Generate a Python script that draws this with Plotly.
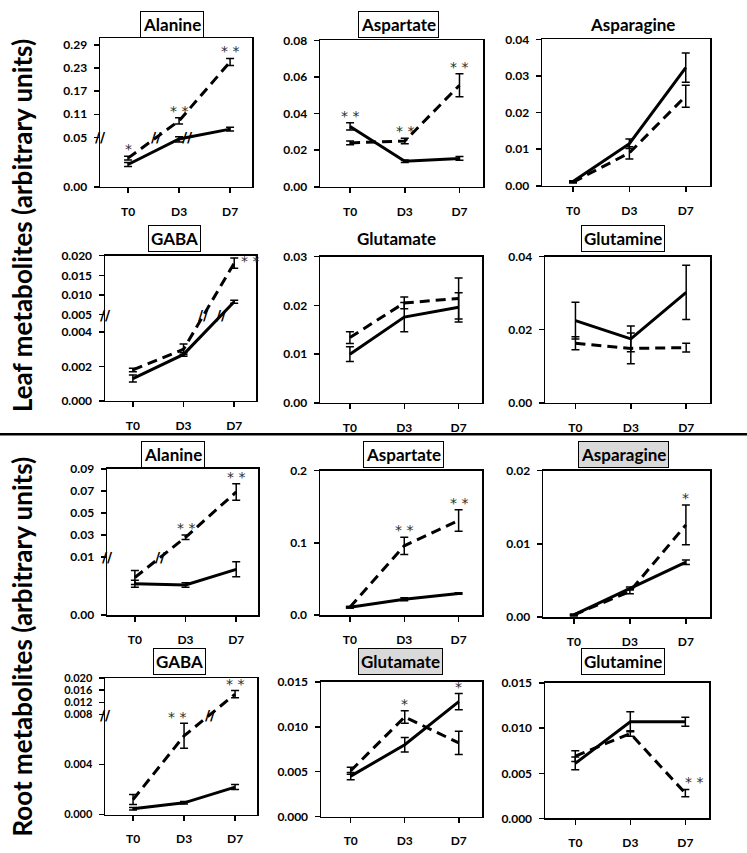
import plotly.graph_objects as go

W, H = 747, 853
times = ["T0", "D3", "D7"]
time_pos = [0, 1, 2]

# ---------------- Leaf metabolites ----------------
leaf_ala_solid = [0.0226, 0.0484, 0.0715]
leaf_ala_solid_err = [0.002, 0.003, 0.005]
leaf_ala_dash = [0.029, 0.093, 0.246]
leaf_ala_dash_err = [0.002, 0.008, 0.009]
leaf_ala_sig = ["*", "**", "**"]
leaf_ala_ticks = [0.00, 0.05, 0.11, 0.17, 0.23, 0.29]
leaf_ala_ticktext = ["0.00", "0.05", "0.11", "0.17", "0.23", "0.29"]

leaf_asp_solid = [0.033, 0.014, 0.0155]
leaf_asp_solid_err = [0.002, 0.0007, 0.001]
leaf_asp_dash = [0.024, 0.025, 0.0555]
leaf_asp_dash_err = [0.001, 0.0015, 0.0063]
leaf_asp_sig = ["**", "**", "**"]
leaf_asp_ticks = [0.00, 0.02, 0.04, 0.06, 0.08]
leaf_asp_ticktext = ["0.00", "0.02", "0.04", "0.06", "0.08"]

leaf_asn_solid = [0.0012, 0.0115, 0.0323]
leaf_asn_solid_err = [0.0002, 0.0013, 0.004]
leaf_asn_dash = [0.001, 0.009, 0.0245]
leaf_asn_dash_err = [0.0002, 0.0017, 0.003]
leaf_asn_sig = ["", "", ""]
leaf_asn_ticks = [0.00, 0.01, 0.02, 0.03, 0.04]
leaf_asn_ticktext = ["0.00", "0.01", "0.02", "0.03", "0.04"]

leaf_gaba_solid = [0.0013, 0.0027, 0.0083]
leaf_gaba_solid_err = [0.0002, 0.0001, 0.0004]
leaf_gaba_dash = [0.0018, 0.0030, 0.0181]
leaf_gaba_dash_err = [0.0001, 0.0003, 0.0013]
leaf_gaba_sig = ["", "", "**"]
leaf_gaba_ticks = [0.000, 0.002, 0.004, 0.005, 0.010, 0.015, 0.020]
leaf_gaba_ticktext = ["0.000", "0.002", "0.004", "0.005", "0.010", "0.015", "0.020"]

leaf_glu_solid = [0.0100, 0.0176, 0.0196]
leaf_glu_solid_err = [0.0015, 0.003, 0.003]
leaf_glu_dash = [0.0134, 0.0205, 0.0214]
leaf_glu_dash_err = [0.0012, 0.0012, 0.0042]
leaf_glu_sig = ["", "", ""]
leaf_glu_ticks = [0.00, 0.01, 0.02, 0.03]
leaf_glu_ticktext = ["0.00", "0.01", "0.02", "0.03"]

leaf_gln_solid = [0.0225, 0.0175, 0.0302]
leaf_gln_solid_err = [0.005, 0.0035, 0.0074]
leaf_gln_dash = [0.0163, 0.0149, 0.0151]
leaf_gln_dash_err = [0.0018, 0.0042, 0.0012]
leaf_gln_sig = ["", "", ""]
leaf_gln_ticks = [0.00, 0.02, 0.04]
leaf_gln_ticktext = ["0.00", "0.02", "0.04"]

# ---------------- Root metabolites ----------------
root_ala_solid = [0.0054, 0.0052, 0.0079]
root_ala_solid_err = [0.0006, 0.0004, 0.0013]
root_ala_dash = [0.0065, 0.028, 0.069]
root_ala_dash_err = [0.0012, 0.002, 0.0075]
root_ala_sig = ["", "**", "**"]
root_ala_ticks = [0.00, 0.01, 0.03, 0.05, 0.07, 0.09]
root_ala_ticktext = ["0.00", "0.01", "0.03", "0.05", "0.07", "0.09"]

root_asp_solid = [0.011, 0.022, 0.030]
root_asp_solid_err = [0.001, 0.002, 0.001]
root_asp_dash = [0.011, 0.096, 0.131]
root_asp_dash_err = [0.001, 0.012, 0.015]
root_asp_sig = ["", "**", "**"]
root_asp_ticks = [0.0, 0.1, 0.2]
root_asp_ticktext = ["0.0", "0.1", "0.2"]

root_asn_solid = [0.0003, 0.0039, 0.0075]
root_asn_solid_err = [0.0001, 0.0002, 0.0003]
root_asn_dash = [0.0003, 0.0035, 0.0126]
root_asn_dash_err = [0.0001, 0.0003, 0.0027]
root_asn_sig = ["", "", "*"]
root_asn_ticks = [0.00, 0.01, 0.02]
root_asn_ticktext = ["0.00", "0.01", "0.02"]

root_gaba_solid = [0.00047, 0.00094, 0.0022]
root_gaba_solid_err = [0.0001, 0.0001, 0.0002]
root_gaba_dash = [0.0012, 0.0063, 0.0147]
root_gaba_dash_err = [0.0004, 0.001, 0.0012]
root_gaba_sig = ["", "**", "**"]
root_gaba_ticks = [0.000, 0.004, 0.008, 0.012, 0.016, 0.020]
root_gaba_ticktext = ["0.000", "0.004", "0.008", "0.012", "0.016", "0.020"]

root_glu_solid = [0.0045, 0.0080, 0.0128]
root_glu_solid_err = [0.0004, 0.0008, 0.0009]
root_glu_dash = [0.0051, 0.0111, 0.0082]
root_glu_dash_err = [0.0004, 0.0007, 0.0013]
root_glu_sig = ["", "*", "*"]
root_glu_ticks = [0.000, 0.005, 0.010, 0.015]
root_glu_ticktext = ["0.000", "0.005", "0.010", "0.015"]

root_gln_solid = [0.0061, 0.0107, 0.0107]
root_gln_solid_err = [0.0007, 0.0011, 0.0005]
root_gln_dash = [0.0069, 0.0094, 0.0028]
root_gln_dash_err = [0.0006, 0.0003, 0.0004]
root_gln_sig = ["", "", "**"]
root_gln_ticks = [0.000, 0.005, 0.010, 0.015]
root_gln_ticktext = ["0.000", "0.005", "0.010", "0.015"]

leaf_axis_title = "Leaf metabolites (arbitrary units)"
root_axis_title = "Root metabolites (arbitrary units)"

# ---------------- panel configuration (layout/styling) ----------------
# scale: ("lin", top) or ("break", break_value, top_value, break_frac, top_frac)
# box: (left px, right px, top px, bottom px); title: (x px, y px, style)
panels = [
    dict(title="Alanine", s=leaf_ala_solid, se=leaf_ala_solid_err, d=leaf_ala_dash, de=leaf_ala_dash_err,
         sig=leaf_ala_sig, ticks=leaf_ala_ticks, tt=leaf_ala_ticktext,
         scale=("break", 0.05, 0.29, 0.333, 0.956), box=(100, 252, 31, 182), tpos=(172, 17), tstyle="box"),
    dict(title="Aspartate", s=leaf_asp_solid, se=leaf_asp_solid_err, d=leaf_asp_dash, de=leaf_asp_dash_err,
         sig=leaf_asp_sig, ticks=leaf_asp_ticks, tt=leaf_asp_ticktext,
         scale=("lin", 0.08), box=(320, 483, 33, 182), tpos=(398, 17), tstyle="box"),
    dict(title="Asparagine", s=leaf_asn_solid, se=leaf_asn_solid_err, d=leaf_asn_dash, de=leaf_asn_dash_err,
         sig=leaf_asn_sig, ticks=leaf_asn_ticks, tt=leaf_asn_ticktext,
         scale=("lin", 0.04), box=(542, 710, 32, 181), tpos=(632, 17), tstyle="none"),
    dict(title="GABA", s=leaf_gaba_solid, se=leaf_gaba_solid_err, d=leaf_gaba_dash, de=leaf_gaba_dash_err,
         sig=leaf_gaba_sig, ticks=leaf_gaba_ticks, tt=leaf_gaba_ticktext,
         scale=("break", 0.005, 0.020, 0.593, 1.0), box=(105, 256, 252, 400), tpos=(174, 235), tstyle="box",
         sigside={2: "right"}),
    dict(title="Glutamate", s=leaf_glu_solid, se=leaf_glu_solid_err, d=leaf_glu_dash, de=leaf_glu_dash_err,
         sig=leaf_glu_sig, ticks=leaf_glu_ticks, tt=leaf_glu_ticktext,
         scale=("lin", 0.03), box=(320, 482, 253, 402), tpos=(397, 235), tstyle="none"),
    dict(title="Glutamine", s=leaf_gln_solid, se=leaf_gln_solid_err, d=leaf_gln_dash, de=leaf_gln_dash_err,
         sig=leaf_gln_sig, ticks=leaf_gln_ticks, tt=leaf_gln_ticktext,
         scale=("lin", 0.04), box=(545, 710, 253, 402), tpos=(623, 235), tstyle="box"),
    dict(title="Alanine", s=root_ala_solid, se=root_ala_solid_err, d=root_ala_dash, de=root_ala_dash_err,
         sig=root_ala_sig, ticks=root_ala_ticks, tt=root_ala_ticktext,
         scale=("break", 0.01, 0.09, 0.396, 1.0), box=(107, 258, 469, 618), tpos=(173, 455), tstyle="box"),
    dict(title="Aspartate", s=root_asp_solid, se=root_asp_solid_err, d=root_asp_dash, de=root_asp_dash_err,
         sig=root_asp_sig, ticks=root_asp_ticks, tt=root_asp_ticktext,
         scale=("lin", 0.2), box=(320, 482, 471, 618), tpos=(404, 455), tstyle="box"),
    dict(title="Asparagine", s=root_asn_solid, se=root_asn_solid_err, d=root_asn_dash, de=root_asn_dash_err,
         sig=root_asn_sig, ticks=root_asn_ticks, tt=root_asn_ticktext,
         scale=("lin", 0.02), box=(543, 710, 471, 620), tpos=(623, 455), tstyle="gray"),
    dict(title="GABA", s=root_gaba_solid, se=root_gaba_solid_err, d=root_gaba_dash, de=root_gaba_dash_err,
         sig=root_gaba_sig, ticks=root_gaba_ticks, tt=root_gaba_ticktext,
         scale=("break", 0.008, 0.020, 0.732, 1.0), box=(105, 257, 682, 821), tpos=(179, 665), tstyle="box",
         sigside={1: "left"}, tickfontsize=11),
    dict(title="Glutamate", s=root_glu_solid, se=root_glu_solid_err, d=root_glu_dash, de=root_glu_dash_err,
         sig=root_glu_sig, ticks=root_glu_ticks, tt=root_glu_ticktext,
         scale=("lin", 0.015), box=(321, 482, 686, 823), tpos=(400, 665), tstyle="gray"),
    dict(title="Glutamine", s=root_gln_solid, se=root_gln_solid_err, d=root_gln_dash, de=root_gln_dash_err,
         sig=root_gln_sig, ticks=root_gln_ticks, tt=root_gln_ticktext,
         scale=("lin", 0.015), box=(545, 709, 687, 825), tpos=(623, 665), tstyle="box",
         sigside={2: "upright"}),
]

FONT = "Lato"
STAR_FONT = "DejaVu Sans"
X_LEFT, X_RIGHT = -0.55, 2.43


def make_scale(spec):
    if spec[0] == "lin":
        top = spec[1]
        return lambda v: v / top
    _, brk, top, lo, hi = spec

    def f(v):
        if v <= brk:
            return v / brk * lo
        return lo + (v - brk) / (top - brk) * (hi - lo)
    return f


fig = go.Figure()
layout = dict(
    width=W, height=H, margin=dict(l=0, r=0, t=0, b=0),
    paper_bgcolor="white", plot_bgcolor="white", showlegend=False,
    font=dict(family=FONT, color="black"),
)
annotations = []
shapes = []

for i, p in enumerate(panels):
    k = i + 1
    xa, ya = f"x{k}", f"y{k}"
    f = make_scale(p["scale"])
    x0, x1, yt, yb = p["box"]

    for vals, errs, dash in [(p["s"], p["se"], None), (p["d"], p["de"], "10px,6px")]:
        yv = [f(v) for v in vals]
        up = [f(v + e) - f(v) for v, e in zip(vals, errs)]
        dn = [f(v) - f(max(v - e, 0)) for v, e in zip(vals, errs)]
        fig.add_trace(go.Scatter(
            x=time_pos, y=yv, mode="lines", xaxis=xa, yaxis=ya,
            line=dict(color="black", width=3, dash=dash),
            error_y=dict(type="data", symmetric=False, array=up, arrayminus=dn,
                         color="black", thickness=1.5, width=4),
            hoverinfo="skip",
        ))
        # break markers on lines
        if p["scale"][0] == "break":
            brk = p["scale"][1]
            fb = f(brk)
            for j in range(len(vals) - 1):
                if (vals[j] - brk) * (vals[j + 1] - brk) < 0:
                    t = (fb - yv[j]) / (yv[j + 1] - yv[j])
                    annotations.append(dict(
                        x=time_pos[j] + t, y=fb, xref=xa, yref=ya, text="<b>//</b>",
                        showarrow=False, font=dict(size=14, color="black", family="DejaVu Sans"),
                        xanchor="center", yanchor="middle"))

    # axis break marker on y axis
    if p["scale"][0] == "break":
        annotations.append(dict(
            x=X_LEFT, y=f(p["scale"][1]), xref=xa, yref=ya, text="<b>//</b>",
            showarrow=False, font=dict(size=14, color="black", family="DejaVu Sans"),
            xanchor="center", yanchor="middle"))

    # significance stars
    sides = p.get("sigside", {})
    for j, s in enumerate(p["sig"]):
        if not s:
            continue
        top_s = f(p["s"][j] + p["se"][j])
        top_d = f(p["d"][j] + p["de"][j])
        side = sides.get(j, "top")
        a = dict(xref=xa, yref=ya, text=s.replace("**", "* *"), showarrow=False,
                 font=dict(size=14, color="#2e2e2e", family=STAR_FONT))
        if side == "right":
            a.update(x=time_pos[j], y=f(p["d"][j]), xanchor="left", yanchor="middle", xshift=5, yshift=2)
        elif side == "left":
            a.update(x=time_pos[j], y=top_d, xanchor="center", yanchor="bottom", xshift=-7, yshift=-4)
        elif side == "upright":
            a.update(x=time_pos[j], y=top_d, xanchor="center", yanchor="bottom", xshift=9, yshift=-2)
        else:
            a.update(x=time_pos[j], y=max(top_s, top_d), xanchor="center", yanchor="bottom", yshift=-3)
        annotations.append(a)

    # title
    tx, ty = p["tpos"]
    ta = dict(x=tx / W, y=1 - ty / H, xref="paper", yref="paper", text=p["title"],
              showarrow=False, font=dict(size=17, color="black", family=FONT, weight="bold"),
              xanchor="center", yanchor="middle")
    if p["tstyle"] in ("box", "gray"):
        ta.update(bordercolor="black", borderwidth=1, borderpad=2,
                  bgcolor="#d9d9d9" if p["tstyle"] == "gray" else "white")
    annotations.append(ta)

    tfs = p.get("tickfontsize", 12)
    xkey = "xaxis" if k == 1 else f"xaxis{k}"
    ykey = "yaxis" if k == 1 else f"yaxis{k}"
    layout[xkey] = dict(
        domain=[x0 / W, x1 / W], anchor=ya, range=[X_LEFT, X_RIGHT],
        tickvals=time_pos, ticktext=times, ticks="outside", ticklen=5, tickwidth=1.5,
        tickcolor="black", showline=True, linecolor="black", linewidth=1.5, mirror=True,
        showgrid=False, zeroline=False, ticklabelstandoff=8,
        tickfont=dict(size=12, family=FONT, color="black", weight="bold"), fixedrange=True)
    layout[ykey] = dict(
        domain=[1 - yb / H, 1 - yt / H], anchor=xa, range=[0, 1],
        tickvals=[f(t) for t in p["ticks"]], ticktext=p["tt"], ticks="outside", ticklen=5,
        tickwidth=1.5, tickcolor="black", showline=True, linecolor="black", linewidth=1.5,
        mirror=True, showgrid=False, zeroline=False, ticklabelstandoff=4,
        tickfont=dict(size=tfs, family=FONT, color="black", weight="bold"), fixedrange=True)

# y-axis group titles
for txt, yc in [(leaf_axis_title, 222), (root_axis_title, 650)]:
    annotations.append(dict(x=22 / W, y=1 - yc / H, xref="paper", yref="paper", text=txt,
                            textangle=-90, showarrow=False,
                            font=dict(size=26, family=FONT, color="black", weight="bold"),
                            xanchor="center", yanchor="middle"))

# separator between leaf and root blocks
shapes.append(dict(type="line", xref="paper", yref="paper", x0=0, x1=1,
                   y0=1 - 434 / H, y1=1 - 434 / H, line=dict(color="black", width=2.5)))

layout["annotations"] = annotations
layout["shapes"] = shapes
fig.update_layout(**layout)
fig.write_html(
    "out.html",
    config={"displayModeBar": False, "staticPlot": True},
    post_script="document.body.style.margin='0px';document.body.style.padding='0px';"
                "document.documentElement.style.overflow='hidden';",
)
